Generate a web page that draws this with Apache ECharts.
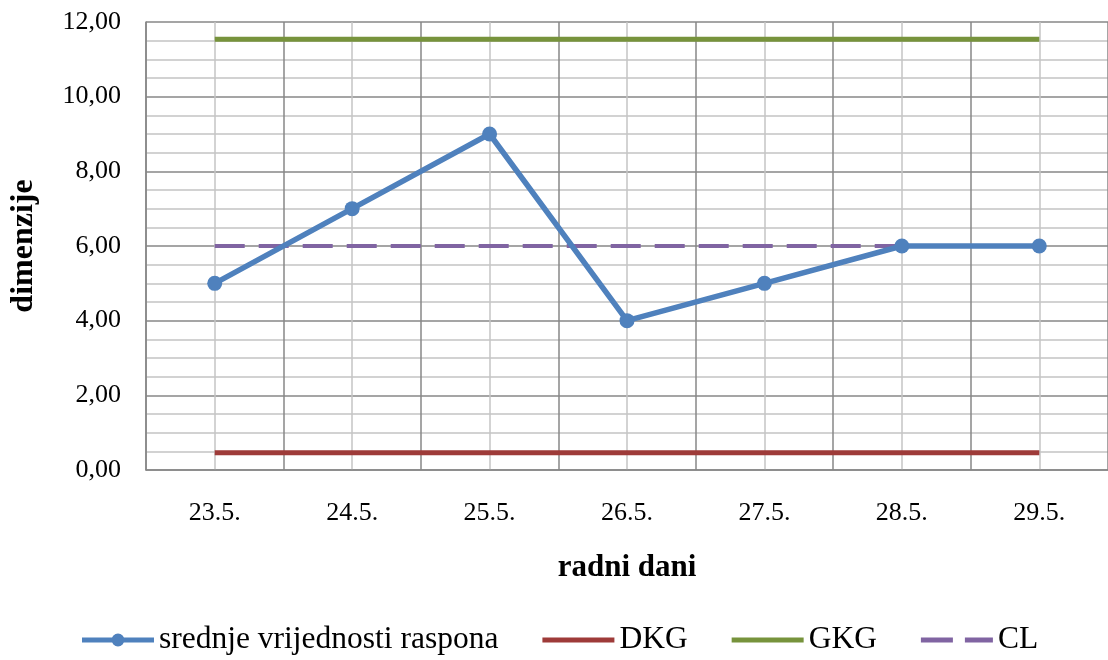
<!DOCTYPE html>
<html>
<head>
<meta charset="utf-8">
<script src="https://cdn.jsdelivr.net/npm/echarts@6/dist/echarts.min.js"></script>
<style>
  html, body { margin: 0; padding: 0; background: #fff; }
  #chart { width: 1108px; height: 660px; }
</style>
</head>
<body>
<div id="chart"></div>
<script>
// podaci
const days = ["23.5.", "24.5.", "25.5.", "26.5.", "27.5.", "28.5.", "29.5."];
const rangeMeans = [5, 7, 9, 4, 5, 6, 6];
const dkg = [0.46, 0.46, 0.46, 0.46, 0.46, 0.46, 0.46];
const gkg = [11.54, 11.54, 11.54, 11.54, 11.54, 11.54, 11.54];
const cl = [6, 6, 6, 6, 6, 6, 6];

const font = "Liberation Serif";
const darkGrid = "#878787";
const lightGrid = "#c4c4c4";

// ikone legende (linija, linija s tockom, isprekidana linija)
const iconLine = "path://M0,0H72V5H0Z";
const iconDot =
  "path://M0,4.5H72V9.5H0Z M29.5,7a6.5,6.5 0 1,1 13,0a6.5,6.5 0 1,1 -13,0Z";
const iconDash = "path://M0,0H32V5H0Z M44,0H72V5H44Z";

const myChart = echarts.init(document.getElementById("chart"));

myChart.setOption({
  animation: false,
  textStyle: { fontFamily: font },
  grid: {
    left: 145,
    right: -5,
    top: 22,
    bottom: 190,
  },
  legend: {
    left: 82,
    top: 624,
    padding: 0,
    itemWidth: 72,
    itemHeight: 14,
    itemGap: 44,
    textStyle: { fontFamily: font, fontSize: 31.5, color: "#000" },
    data: [
      { name: "srednje vrijednosti raspona", icon: iconDot },
      { name: "DKG", icon: iconLine },
      { name: "GKG", icon: iconLine },
      { name: "CL", icon: iconDash },
    ],
  },
  xAxis: [
    {
      type: "category",
      data: days,
      boundaryGap: true,
      axisLine: { show: true, lineStyle: { color: darkGrid, width: 1.5 } },
      axisTick: { show: false },
      axisLabel: {
        color: "#000",
        fontSize: 26,
        fontFamily: font,
        margin: 30,
      },
      splitLine: { show: false },
      name: "radni dani",
      nameLocation: "middle",
      nameGap: 82,
      nameTextStyle: {
        fontFamily: font,
        fontSize: 31,
        fontWeight: "bold",
        color: "#000",
      },
    },
    {
      // pomocna os samo za okomite linije mreze (granice i sredine dana)
      type: "value",
      min: 0,
      max: days.length * 2,
      interval: 1,
      position: "bottom",
      axisLine: { show: false },
      axisTick: { show: false },
      axisLabel: { show: false },
      splitLine: {
        show: true,
        lineStyle: { color: [darkGrid, lightGrid], width: 1.5 },
      },
    },
  ],
  yAxis: {
    type: "value",
    min: 0,
    max: 12,
    interval: 2,
    axisLine: { show: true, lineStyle: { color: darkGrid, width: 1.5 } },
    axisTick: { show: false },
    axisLabel: {
      color: "#000",
      fontSize: 26,
      fontFamily: font,
      margin: 25,
      formatter: (v) => v.toFixed(2).replace(".", ","),
    },
    splitLine: { show: true, lineStyle: { color: darkGrid, width: 1.5 } },
    minorTick: { show: false, splitNumber: 4 },
    minorSplitLine: { show: true, lineStyle: { color: lightGrid, width: 1.5 } },
    name: "dimenzije",
    nameLocation: "middle",
    nameGap: 106,
    nameTextStyle: {
      fontFamily: font,
      fontSize: 32,
      fontWeight: "bold",
      color: "#000",
    },
  },
  series: [
    {
      name: "srednje vrijednosti raspona",
      type: "line",
      data: rangeMeans,
      symbol: "circle",
      symbolSize: 15,
      itemStyle: { color: "#4F81BD" },
      lineStyle: { color: "#4F81BD", width: 5.5 },
      z: 5,
    },
    {
      name: "DKG",
      type: "line",
      data: dkg,
      symbol: "none",
      itemStyle: { color: "#9E3B39" },
      lineStyle: { color: "#9E3B39", width: 5 },
    },
    {
      name: "GKG",
      type: "line",
      data: gkg,
      symbol: "none",
      itemStyle: { color: "#77933C" },
      lineStyle: { color: "#77933C", width: 5 },
    },
    {
      name: "CL",
      type: "line",
      data: cl,
      symbol: "none",
      itemStyle: { color: "#8064A2" },
      lineStyle: { color: "#8064A2", width: 4, type: [30, 14] },
    },
  ],
});
</script>
</body>
</html>
